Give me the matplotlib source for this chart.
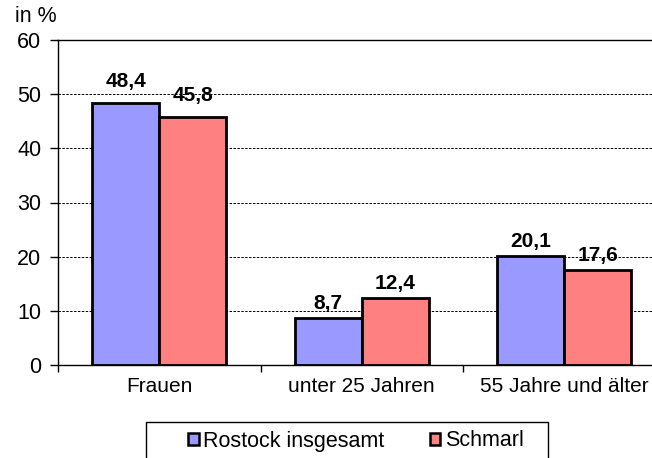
import matplotlib
matplotlib.use("Agg")
import matplotlib.pyplot as plt
from matplotlib.patches import Rectangle, Patch
import numpy as np

plt.rcParams['font.family'] = ['Liberation Sans', 'DejaVu Sans']

categories = ['Frauen', 'unter 25 Jahren', '55 Jahre und älter']
series_names = ['Rostock insgesamt', 'Schmarl']
rostock = [48.4, 8.7, 20.1]
schmarl = [45.8, 12.4, 17.6]
y_ticks = [0, 10, 20, 30, 40, 50, 60]

colors = ['#9999FF', '#FF8080']
W, H = 652, 458

fig = plt.figure(figsize=(W / 100, H / 100), dpi=100)
# axis runs past the right edge of the picture, like the original
ax = fig.add_axes([58 / W, 93 / H, 607.5 / W, 325 / H])

x = np.arange(len(categories))
bw = 0.33
b1 = ax.bar(x - bw / 2, rostock, bw, color=colors[0], edgecolor='black', linewidth=2.0)
b2 = ax.bar(x + bw / 2, schmarl, bw, color=colors[1], edgecolor='black', linewidth=2.0)

# value labels (German decimal comma); offset of label centre above bar top
pad = [15.5, 10.5, 10.5]
for bars in (b1, b2):
    for i, rect in enumerate(bars):
        v = rect.get_height()
        ax.annotate(f'{v:.1f}'.replace('.', ','),
                    (rect.get_x() + rect.get_width() / 2, v),
                    xytext=(0, pad[i]), textcoords='offset points',
                    ha='center', va='center', fontsize=15, fontweight='bold')

ax.set_xlim(-0.5, 2.5)
ax.set_ylim(0, 60)
ax.set_yticks(y_ticks)
ax.set_yticklabels([str(t) for t in y_ticks], fontsize=15.5)
for t in y_ticks[1:-1]:
    ax.axhline(t, color='black', linestyle=(0, (2.5, 1.5)), linewidth=0.7, zorder=0)

ax.set_xticks(x)
ax.set_xticklabels(categories, fontsize=15)
ax.tick_params(axis='x', length=0, pad=9)
ax.set_xticks([-0.5, 0.5, 1.5, 2.5], minor=True)
ax.tick_params(axis='x', which='minor', length=5, width=1, direction='out')
ax.tick_params(axis='y', length=6, width=1, direction='out', pad=6)

for s in ['left', 'bottom', 'top', 'right']:
    ax.spines[s].set_linewidth(1.0)
ax.spines['right'].set_visible(False)

fig.text(15 / W, 1 - 17 / H, 'in %', fontsize=15.5, va='center', ha='left')

# legend frame, cut by the bottom of the picture
fig.patches.append(Rectangle((146 / W, -20 / H), 402 / W, 56 / H,
                             transform=fig.transFigure, facecolor='white',
                             edgecolor='black', linewidth=1.0))
handles = [Patch(facecolor=c, edgecolor='black', linewidth=1.8) for c in colors]
fig.legend(handles, series_names, loc='center left', ncol=2, frameon=False,
           bbox_to_anchor=(188 / W, 1 - 441 / H), fontsize=15.5,
           handlelength=0.5, handleheight=0.5, handletextpad=0.2,
           columnspacing=2.1, borderaxespad=0, borderpad=0)

fig.savefig('out.png', dpi=100)
